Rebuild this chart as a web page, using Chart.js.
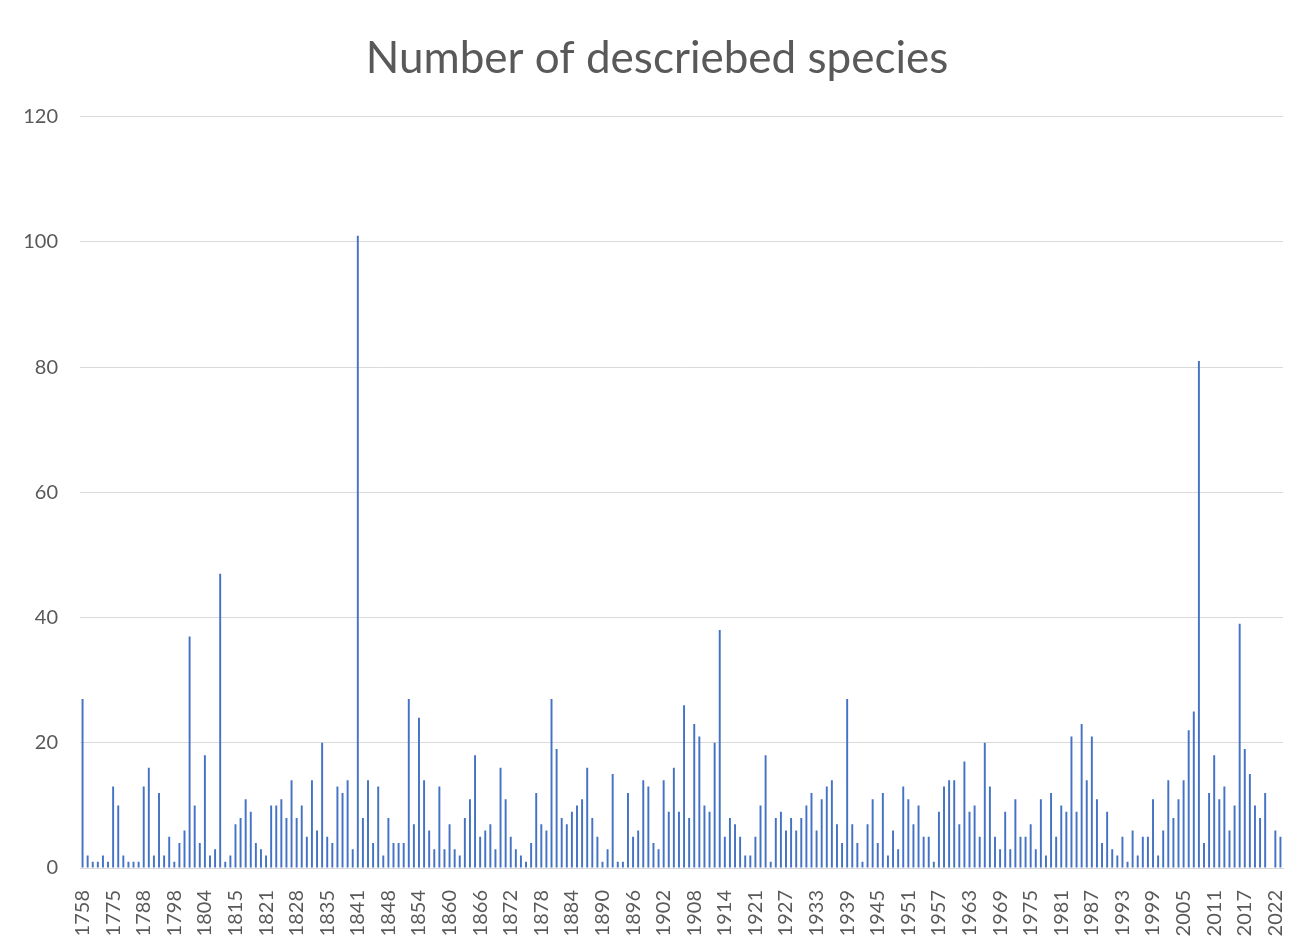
<!DOCTYPE html>
<html>
<head>
<meta charset="utf-8">
<script src="https://cdn.jsdelivr.net/npm/chart.js@4.4.0/dist/chart.umd.min.js"></script>
<style>
  html, body { margin: 0; padding: 0; background: #ffffff; }
</style>
</head>
<body>
<canvas id="speciesChart" width="1314" height="947"></canvas>
<script>
// years on the category axis (one entry per bar)
const years = [
  1758, 1761, 1763, 1764, 1767, 1771, 1775, 1776, 1777, 1781, 1782, 1785,
  1788, 1789, 1790, 1791, 1793, 1797, 1798, 1799, 1800, 1801, 1802, 1803,
  1804, 1805, 1806, 1808, 1810, 1813, 1815, 1816, 1817, 1818, 1819, 1820,
  1821, 1822, 1823, 1824, 1825, 1826, 1828, 1829, 1830, 1831, 1832, 1833,
  1835, 1836, 1837, 1838, 1839, 1840, 1841, 1842, 1843, 1844, 1845, 1846,
  1848, 1849, 1850, 1851, 1852, 1853, 1854, 1855, 1856, 1857, 1858, 1859,
  1860, 1861, 1862, 1863, 1864, 1865, 1866, 1867, 1868, 1869, 1870, 1871,
  1872, 1873, 1874, 1875, 1876, 1877, 1878, 1879, 1880, 1881, 1882, 1883,
  1884, 1885, 1886, 1887, 1888, 1889, 1890, 1891, 1892, 1893, 1894, 1895,
  1896, 1897, 1898, 1899, 1900, 1901, 1902, 1903, 1904, 1905, 1906, 1907,
  1908, 1909, 1910, 1911, 1912, 1913, 1914, 1915, 1916, 1917, 1919, 1920,
  1921, 1922, 1923, 1924, 1925, 1926, 1927, 1928, 1929, 1930, 1931, 1932,
  1933, 1934, 1935, 1936, 1937, 1938, 1939, 1940, 1941, 1942, 1943, 1944,
  1945, 1946, 1947, 1948, 1949, 1950, 1951, 1952, 1953, 1954, 1955, 1956,
  1957, 1958, 1959, 1960, 1961, 1962, 1963, 1964, 1965, 1966, 1967, 1968,
  1969, 1970, 1971, 1972, 1973, 1974, 1975, 1976, 1977, 1978, 1979, 1980,
  1981, 1982, 1983, 1984, 1985, 1986, 1987, 1988, 1989, 1990, 1991, 1992,
  1993, 1994, 1995, 1996, 1997, 1998, 1999, 2000, 2001, 2002, 2003, 2004,
  2005, 2006, 2007, 2008, 2009, 2010, 2011, 2012, 2013, 2014, 2015, 2016,
  2017, 2018, 2019, 2020, 2021, '', 2022, 2023
];

// number of species described in each of those years
const speciesCounts = [
  27, 2, 1, 1, 2, 1, 13, 10, 2, 1, 1, 1, 13, 16, 2, 12, 2, 5, 1, 4,
  6, 37, 10, 4, 18, 2, 3, 47, 1, 2, 7, 8, 11, 9, 4, 3, 2, 10, 10, 11,
  8, 14, 8, 10, 5, 14, 6, 20, 5, 4, 13, 12, 14, 3, 101, 8, 14, 4, 13,
  2, 8, 4, 4, 4, 27, 7, 24, 14, 6, 3, 13, 3, 7, 3, 2, 8, 11, 18, 5,
  6, 7, 3, 16, 11, 5, 3, 2, 1, 4, 12, 7, 6, 27, 19, 8, 7, 9, 10, 11,
  16, 8, 5, 1, 3, 15, 1, 1, 12, 5, 6, 14, 13, 4, 3, 14, 9, 16, 9,
  26, 8, 23, 21, 10, 9, 20, 38, 5, 8, 7, 5, 2, 2, 5, 10, 18, 1, 8, 9,
  6, 8, 6, 8, 10, 12, 6, 11, 13, 14, 7, 4, 27, 7, 4, 1, 7, 11, 4,
  12, 2, 6, 3, 13, 11, 7, 10, 5, 5, 1, 9, 13, 14, 14, 7, 17, 9, 10, 5,
  20, 13, 5, 3, 9, 3, 11, 5, 5, 7, 3, 11, 2, 12, 5, 10, 9, 21, 9, 23,
  14, 21, 11, 4, 9, 3, 2, 5, 1, 6, 2, 5, 5, 11, 2, 6, 14, 8, 11,
  14, 22, 25, 81, 4, 12, 18, 11, 13, 6, 10, 39, 19, 15, 10, 8, 12, 0, 6, 5
];

const yTicks = [0, 20, 40, 60, 80, 100, 120];
const labelEvery = 6; // excel shows every 6th year

const fontFamily = 'Lato, "Open Sans", sans-serif';
const greyText = '#595959';

const ctx = document.getElementById('speciesChart').getContext('2d');
new Chart(ctx, {
    type: 'bar',
    data: {
        labels: years.map(y => String(y)),
        datasets: [{
            label: 'Number of descriebed species',
            data: speciesCounts,
            backgroundColor: '#4472C4',
            barPercentage: 0.38,
            categoryPercentage: 1.0
        }]
    },
    options: {
        responsive: false,
        animation: false,
        layout: { padding: 0 },
        plugins: {
            legend: { display: false },
            tooltip: { enabled: false },
            title: {
                display: true,
                text: 'Number of descriebed species',
                color: greyText,
                font: { family: fontFamily, size: 44, weight: 'normal' },
                padding: { top: 32, bottom: 32 }
            }
        },
        scales: {
            x: {
                grid: { display: false },
                border: { color: '#d9d9d9', width: 1 },
                ticks: {
                    autoSkip: false,
                    minRotation: 90,
                    maxRotation: 90,
                    padding: 14,
                    color: greyText,
                    font: { family: fontFamily, size: 20 },
                    callback: function(value, index) {
                        return index % labelEvery === 0 ? this.getLabelForValue(value) : null;
                    }
                },
                afterFit: scale => { scale.height = 79; }
            },
            y: {
                min: yTicks[0],
                max: yTicks[yTicks.length - 1],
                grid: { color: '#d9d9d9', drawTicks: false },
                border: { display: false },
                ticks: {
                    stepSize: 20,
                    padding: 22,
                    color: greyText,
                    font: { family: fontFamily, size: 20 }
                },
                afterFit: scale => { scale.width = 80; }
            },
            // empty right margin so the title stays centred on the page
            spacer: {
                position: 'right',
                grid: { display: false },
                border: { display: false },
                ticks: { display: false },
                afterFit: scale => { scale.width = 31; }
            }
        }
    }
});
</script>
</body>
</html>
